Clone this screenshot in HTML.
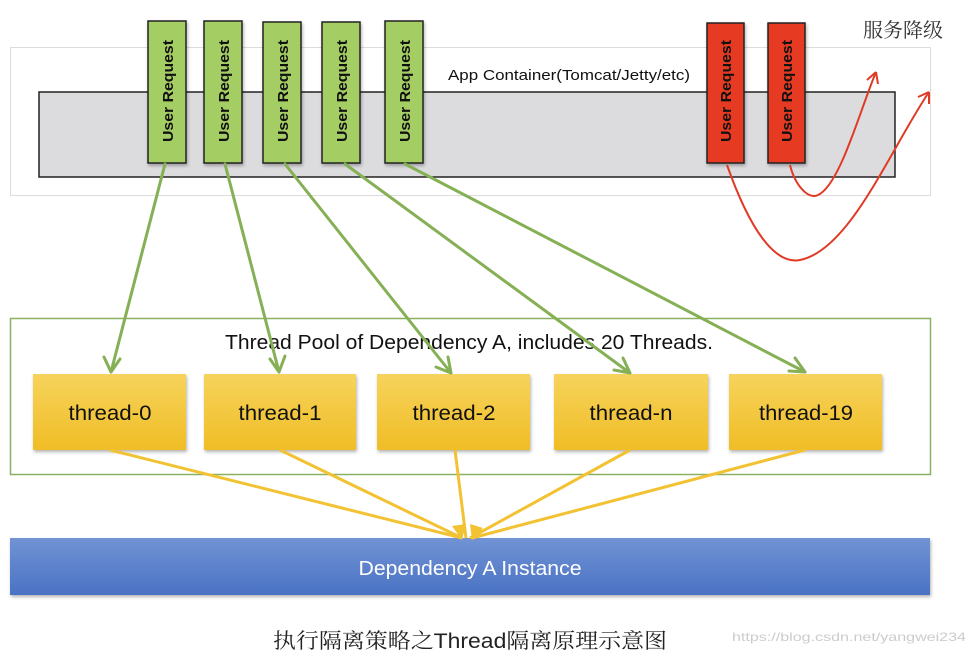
<!DOCTYPE html>
<html><head><meta charset="utf-8"><style>
html,body{margin:0;padding:0;background:#fff;}
svg{display:block;}
</style></head><body>
<svg width="972" height="657" viewBox="0 0 972 657" xmlns="http://www.w3.org/2000/svg" font-family="'Liberation Sans','Noto Sans CJK SC',sans-serif">
<defs>
<linearGradient id="yg" x1="0" y1="0" x2="0" y2="1"><stop offset="0" stop-color="#f6d35c"/><stop offset="1" stop-color="#f0bd25"/></linearGradient>
<linearGradient id="bg" x1="0" y1="0" x2="0" y2="1"><stop offset="0" stop-color="#7193d4"/><stop offset="1" stop-color="#4a72c4"/></linearGradient>
<filter id="sh" x="-10%" y="-10%" width="130%" height="130%"><feDropShadow dx="1" dy="2" stdDeviation="1.5" flood-color="#000" flood-opacity="0.3"/></filter>
</defs>
<rect x="10.5" y="47.5" width="920" height="148" fill="#fff" stroke="#dcdcdc"/>
<rect x="39" y="92" width="856" height="85" fill="#dcdcdf" stroke="#222" stroke-width="1.5"/>
<text x="448" y="80" font-size="15" fill="#111" textLength="242" lengthAdjust="spacingAndGlyphs">App Container(Tomcat/Jetty/etc)</text>
<text x="863" y="37" font-size="20" fill="#333" font-family="'Noto Serif CJK SC','Noto Sans CJK SC',serif">服务降级</text>
<g fill="#a4cd64" stroke="#222" stroke-width="1.5" filter="url(#sh)">
<rect x="148" y="21" width="38" height="142"/>
<rect x="204" y="21" width="38" height="142"/>
<rect x="263" y="22" width="38" height="141"/>
<rect x="322" y="22" width="38" height="141"/>
<rect x="385" y="21" width="38" height="142"/>
</g>
<g fill="#e63a22" stroke="#222" stroke-width="1.5" filter="url(#sh)">
<rect x="707" y="23" width="37" height="140"/>
<rect x="768" y="23" width="37" height="140"/>
</g>
<g font-size="15" font-weight="bold" fill="#111" text-anchor="middle">
<text transform="translate(173,91) rotate(-90)" textLength="102" lengthAdjust="spacingAndGlyphs">User Request</text>
<text transform="translate(229,91) rotate(-90)" textLength="102" lengthAdjust="spacingAndGlyphs">User Request</text>
<text transform="translate(288,91) rotate(-90)" textLength="102" lengthAdjust="spacingAndGlyphs">User Request</text>
<text transform="translate(347,91) rotate(-90)" textLength="102" lengthAdjust="spacingAndGlyphs">User Request</text>
<text transform="translate(410,91) rotate(-90)" textLength="102" lengthAdjust="spacingAndGlyphs">User Request</text>
<text transform="translate(731,91) rotate(-90)" textLength="102" lengthAdjust="spacingAndGlyphs">User Request</text>
<text transform="translate(792,91) rotate(-90)" textLength="102" lengthAdjust="spacingAndGlyphs">User Request</text>
</g>
<g fill="none" stroke="#e03a25" stroke-width="2">
<path d="M727,165 C750,230 775,265 800,260 C850,250 890,150 929,92"/>
<path d="M929,92 l-11,5 M929,92 l0,12"/>
<path d="M790,165 C795,185 808,200 818,195 C840,185 860,110 876,72"/>
<path d="M876,72 l-9,8 M876,72 l2,12"/>
</g>
<rect x="10.5" y="318.5" width="920" height="156" fill="none" stroke="#8ab060" stroke-width="1.5"/>
<text x="469" y="349" font-size="20" fill="#111" text-anchor="middle" textLength="488" lengthAdjust="spacingAndGlyphs">Thread Pool of Dependency A, includes 20 Threads.</text>
<g fill="url(#yg)" filter="url(#sh)">
<rect x="33" y="374" width="153" height="76"/>
<rect x="204" y="374" width="152" height="76"/>
<rect x="377" y="374" width="153" height="76"/>
<rect x="554" y="374" width="154" height="76"/>
<rect x="729" y="374" width="153" height="76"/>
</g>
<g font-size="21" fill="#111" text-anchor="middle">
<text x="110" y="420" textLength="83" lengthAdjust="spacingAndGlyphs">thread-0</text>
<text x="280" y="420" textLength="83" lengthAdjust="spacingAndGlyphs">thread-1</text>
<text x="454" y="420" textLength="83" lengthAdjust="spacingAndGlyphs">thread-2</text>
<text x="631" y="420" textLength="83" lengthAdjust="spacingAndGlyphs">thread-n</text>
<text x="806" y="420" textLength="94" lengthAdjust="spacingAndGlyphs">thread-19</text>
</g>
<g stroke="#86b055" stroke-width="3" fill="none" stroke-linecap="round" stroke-linejoin="round">
<path d="M165,164 L111,372"/><path d="M104,357 L111,372 L120,359"/>
<path d="M225,164 L279,372"/><path d="M270,359 L279,372 L285,356"/>
<path d="M285,164 L451,373"/><path d="M436,367 L451,373 L448,357"/>
<path d="M345,164 L630,373"/><path d="M614,370 L630,373 L623,358"/>
<path d="M405,164 L805,372"/><path d="M789,371 L805,372 L795,358"/>
</g>
<rect x="10" y="538" width="920" height="57" fill="url(#bg)" filter="url(#sh)"/>
<text x="470" y="575" font-size="20" fill="#fff" text-anchor="middle" textLength="223" lengthAdjust="spacingAndGlyphs">Dependency A Instance</text>
<g stroke="#f2c232" stroke-width="3" fill="none">
<path d="M110,450 L462,538"/>
<path d="M280,450 L462,538"/>
<path d="M455,450 L466,538"/>
<path d="M630,450 L470,538"/>
<path d="M805,450 L472,538"/>
</g>
<g fill="#f2c232">
<polygon points="462,540 452,526 466,524"/>
<polygon points="472,540 470,524 483,528"/>
</g>
<text x="470" y="648" font-size="21" fill="#222" text-anchor="middle" textLength="394" lengthAdjust="spacingAndGlyphs" font-family="'Noto Serif CJK SC','Noto Sans CJK SC',serif">执行隔离策略之<tspan font-family="'Liberation Sans',sans-serif">Thread</tspan>隔离原理示意图</text>
<text x="966" y="641" font-size="12" fill="#ccc" text-anchor="end" textLength="234" lengthAdjust="spacingAndGlyphs">https://blog.csdn.net/yangwei234</text>
</svg>
</body></html>
